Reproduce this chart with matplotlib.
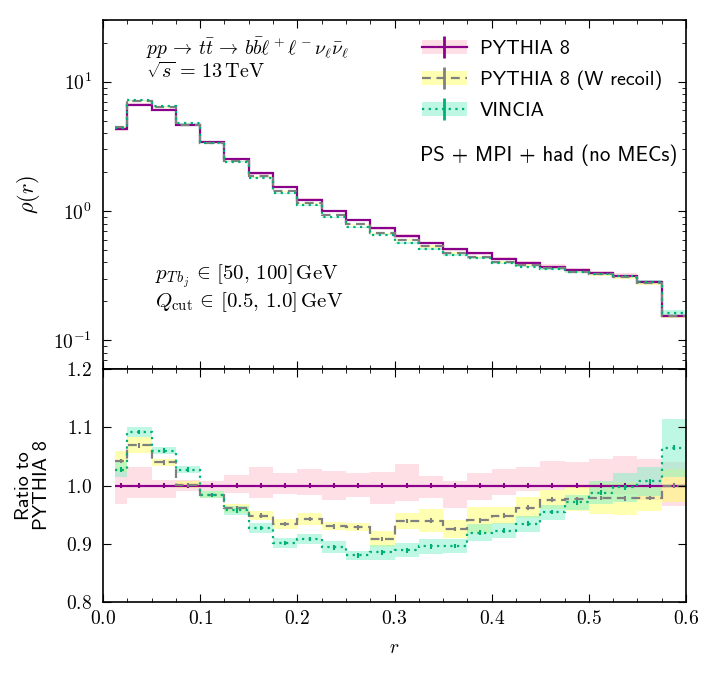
import numpy as np
import matplotlib.pyplot as plt
from matplotlib.patches import Patch
from matplotlib.lines import Line2D

plt.rcParams['font.family'] = 'cmr10'
plt.rcParams['mathtext.fontset'] = 'cm'
plt.rcParams['axes.formatter.use_mathtext'] = True

# bin edges in r (first bin is half width)
edges = [0.0125, 0.025, 0.05, 0.075, 0.1, 0.125, 0.15, 0.175, 0.2, 0.225, 0.25,
         0.275, 0.3, 0.325, 0.35, 0.375, 0.4, 0.425, 0.45, 0.475, 0.5, 0.525,
         0.55, 0.575, 0.6]

# rho(r) for the three generators
rho_pythia = [4.29, 6.58, 6.08, 4.65, 3.44, 2.52, 1.95, 1.52, 1.22, 1.00, 0.85, 0.741,
              0.638, 0.566, 0.51, 0.47, 0.427, 0.397, 0.372, 0.348, 0.330, 0.315, 0.282, 0.154]
rho_wrecoil = [4.470, 7.034, 6.323, 4.655, 3.385, 2.422, 1.849, 1.420, 1.150, 0.930, 0.789, 0.673,
               0.599, 0.532, 0.472, 0.442, 0.405, 0.382, 0.363, 0.340, 0.323, 0.308, 0.276, 0.154]
rho_vincia = [4.406, 7.185, 6.445, 4.776, 3.385, 2.412, 1.808, 1.370, 1.108, 0.894, 0.748, 0.656,
              0.567, 0.507, 0.457, 0.432, 0.394, 0.371, 0.355, 0.338, 0.326, 0.314, 0.284, 0.164]

# scale variation envelopes (relative)
pythia_lo = [0.969, 0.979, 0.979, 0.990, 0.991, 0.988, 0.978, 0.985, 0.984, 0.976, 0.981, 0.969,
             0.974, 0.978, 0.962, 0.976, 0.984, 0.990, 0.993, 0.995, 0.985, 0.985, 0.975, 0.965]
pythia_hi = [1.031, 1.031, 1.010, 1.010, 1.008, 1.018, 1.031, 1.021, 1.028, 1.025, 1.022, 1.024,
             1.037, 1.017, 1.007, 1.022, 1.028, 1.031, 1.042, 1.040, 1.046, 1.050, 1.045, 1.040]
wrecoil_err = [0.018, 0.014, 0.006, 0.006, 0.006, 0.008, 0.008, 0.008, 0.010, 0.007, 0.007, 0.013,
               0.014, 0.020, 0.016, 0.022, 0.015, 0.018, 0.016, 0.020, 0.027, 0.028, 0.022, 0.028]
vincia_err = [0.013, 0.008, 0.006, 0.006, 0.006, 0.008, 0.008, 0.009, 0.008, 0.010, 0.008, 0.013,
              0.012, 0.013, 0.012, 0.015, 0.013, 0.014, 0.013, 0.013, 0.020, 0.025, 0.025, 0.050]
stat_err = 0.004

edges = np.array(edges)
centers = 0.5 * (edges[1:] + edges[:-1])
p = np.array(rho_pythia)
w = np.array(rho_wrecoil)
v = np.array(rho_vincia)

c_py, c_wr, c_vi = '#8b008b', '#808080', '#00b074'
b_py, b_wr, b_vi = '#ffc0cf', '#ffff66', '#7ff0c8'
ls_wr = (0, (4, 2.5))
ls_vi = (0, (1, 2))

fig = plt.figure(figsize=(7.14, 6.75), dpi=100)
ax1 = fig.add_axes([0.1443, 0.4533, 0.8165, 0.5171])
ax2 = fig.add_axes([0.1443, 0.1081, 0.8165, 0.3452], sharex=ax1)

# top panel
ax1.stairs(p * np.array(pythia_hi), edges, baseline=p * np.array(pythia_lo), fill=True, color=b_py, alpha=0.5, lw=0)
ax1.stairs(w * (1 + np.array(wrecoil_err)), edges, baseline=w * (1 - np.array(wrecoil_err)), fill=True, color=b_wr, alpha=0.5, lw=0)
ax1.stairs(v * (1 + np.array(vincia_err)), edges, baseline=v * (1 - np.array(vincia_err)), fill=True, color=b_vi, alpha=0.5, lw=0)
ax1.stairs(p, edges, baseline=None, color=c_py, lw=1.6)
ax1.stairs(w, edges, baseline=None, color=c_wr, lw=1.6, ls=ls_wr)
ax1.stairs(v, edges, baseline=None, color=c_vi, lw=1.6, ls=ls_vi)
ax1.set_yscale('log')
ax1.set_ylim(0.06, 30)
ax1.set_ylabel(r'$\rho(r)$', fontsize=16)
ax1.yaxis.set_label_coords(-0.105, 0.5)
ax1.tick_params(labelbottom=False)

ax1.text(0.074, 0.917, r'$pp \,\to\, t\bar{t} \,\to\, b\bar{b}\ell^+\ell^-\nu_\ell\bar{\nu}_\ell$',
         transform=ax1.transAxes, fontsize=14, va='center')
ax1.text(0.074, 0.851, r'$\sqrt{s} \,=\, 13\,\mathrm{TeV}$', transform=ax1.transAxes, fontsize=14.5, va='center')
ax1.text(0.089, 0.264, r'$p_{T\,b_j} \,\in\, [50,\, 100]\,\mathrm{GeV}$', transform=ax1.transAxes, fontsize=15, va='center')
ax1.text(0.089, 0.192, r'$Q_\mathrm{cut} \,\in\, [0.5,\, 1.0]\,\mathrm{GeV}$', transform=ax1.transAxes, fontsize=15, va='center')
ax1.text(0.986, 0.613, 'PS + MPI + had (no MECs)', transform=ax1.transAxes, fontsize=15,
         va='center', ha='right', family='cmss10')

handles = [
    (Patch(color=b_py, alpha=0.5, lw=0), Line2D([], [], color=c_py, lw=1.6, marker='|', ms=16, mew=2)),
    (Patch(color=b_wr, alpha=0.5, lw=0), Line2D([], [], color=c_wr, lw=1.6, ls=ls_wr, marker='|', ms=16, mew=2)),
    (Patch(color=b_vi, alpha=0.5, lw=0), Line2D([], [], color=c_vi, lw=1.6, ls=ls_vi, marker='|', ms=16, mew=2)),
]
labels = ['PYTHIA 8', 'PYTHIA 8 (W recoil)', 'VINCIA']
ax1.legend(handles, labels, loc='upper left', bbox_to_anchor=(0.52, 0.99), frameon=False,
           prop={'family': 'cmss10', 'size': 14.5}, handlelength=2.2, handletextpad=0.65,
           labelspacing=0.62, borderpad=0.3)

# ratio panel
ratio_w = w / p
ratio_v = v / p
ones = np.ones_like(p)
ax2.stairs(pythia_hi, edges, baseline=pythia_lo, fill=True, color=b_py, alpha=0.5, lw=0)
ax2.stairs(ratio_w + np.array(wrecoil_err), edges, baseline=ratio_w - np.array(wrecoil_err), fill=True, color=b_wr, alpha=0.5, lw=0)
ax2.stairs(ratio_v + np.array(vincia_err), edges, baseline=ratio_v - np.array(vincia_err), fill=True, color=b_vi, alpha=0.5, lw=0)
ax2.stairs(ones, edges, baseline=None, color=c_py, lw=1.6)
ax2.stairs(ratio_w, edges, baseline=None, color=c_wr, lw=1.6, ls=ls_wr)
ax2.stairs(ratio_v, edges, baseline=None, color=c_vi, lw=1.6, ls=ls_vi)
ax2.errorbar(centers, ones, yerr=stat_err, fmt='none', ecolor=c_py, elinewidth=1.5)
ax2.errorbar(centers, ratio_w, yerr=stat_err, fmt='none', ecolor=c_wr, elinewidth=1.5)
ax2.errorbar(centers, ratio_v, yerr=stat_err, fmt='none', ecolor=c_vi, elinewidth=1.5)
ax2.set_ylim(0.8, 1.2)
ax2.set_yticks([0.8, 0.9, 1.0, 1.1, 1.2])
ax2.set_xlim(0.0, 0.6)
ax2.set_xticks(np.arange(0, 0.61, 0.1))
ax2.set_xticks(np.arange(0, 0.601, 0.025), minor=True)
ax2.set_xlabel(r'$r$', fontsize=14, labelpad=8)
ax2.set_ylabel('Ratio to\nPYTHIA 8', fontsize=14.5, family='cmss10', linespacing=0.95)
ax2.yaxis.set_label_coords(-0.09, 0.5)

for ax in (ax1, ax2):
    ax.tick_params(which='both', direction='in', top=True, right=True, labelsize=14)
    ax.tick_params(axis='y', pad=8)
    ax.tick_params(axis='x', pad=6)
    ax.tick_params(which='major', length=6)
    ax.tick_params(which='minor', length=3)
    for s in ax.spines.values():
        s.set_linewidth(1.2)

fig.savefig('out.png', dpi=100)
